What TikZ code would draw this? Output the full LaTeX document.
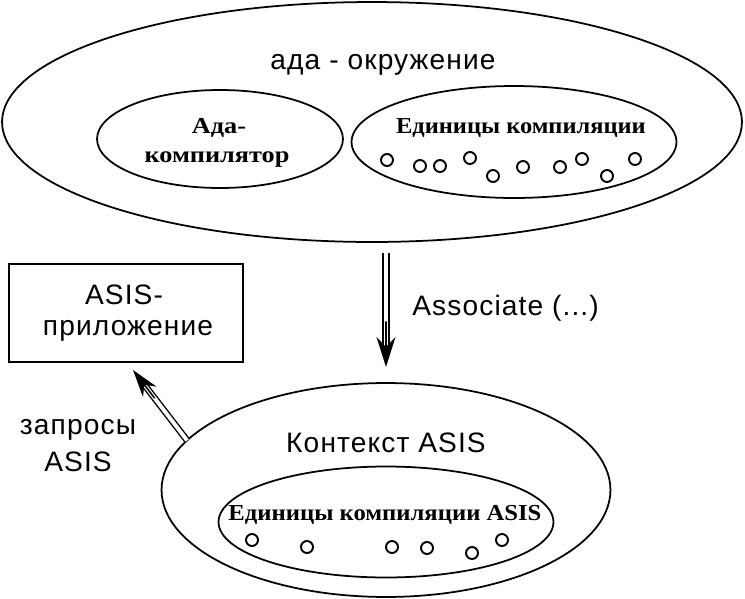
\documentclass[tikz,border=0pt]{standalone}
\usepackage{fontspec}
\usepackage{graphicx}
\setmainfont{Liberation Serif}
\newfontfamily\lblfont[LetterSpace=4]{Liberation Sans}
\usetikzlibrary{shapes.geometric,arrows.meta,calc}
\tikzset{
  ell/.style={ellipse, draw, line width=1pt, inner sep=0pt, outer sep=0pt},
  sanslbl/.style={font=\lblfont\fontsize{16}{18}\selectfont, inner sep=0pt},
  serlbl/.style={font=\bfseries\fontsize{13}{15}\selectfont, inner sep=0pt},
  unitmark/.style={line width=1.1pt},
  dblline/.style={double, double distance=2.6pt, line width=0.9pt},
  tipline/.style={line width=0.9pt},
  appbox/.style={draw, line width=1pt, inner sep=0pt, outer sep=0pt}
}
\begin{document}
\begin{tikzpicture}[x=0.02cm,y=-0.02cm]
\useasboundingbox (0,0) rectangle (745,599);
% top environment
\node[ell, minimum width=14.8cm, minimum height=4.8cm] (env) at (372,122) {};
\node[sanslbl] (envlbl) at (383,65) {ада - окружение};
\node[ell, minimum width=4.92cm, minimum height=1.96cm] (comp) at (220,139) {};
\node[serlbl] (complblA) at (219,128) {\scalebox{1.15}[1]{Ада-}};
\node[serlbl] (complblB) at (217,160) {\scalebox{1.15}[1]{компилятор}};
\node[ell, minimum width=6.5cm, minimum height=2.24cm] (units) at (514,142) {};
\node[serlbl] (unitslbl) at (521,128) {\scalebox{1.07}[1]{Единицы компиляции}};
\foreach \px/\py in {387/160,420/166,440/166,470/158,493/176,523/167,560/167,582/159,607/176,635/159}
  \draw[unitmark] (\px,\py) circle[radius=6];
% application box
\node[appbox, minimum width=4.68cm, minimum height=1.96cm] (app) at (126,313) {};
\node[sanslbl] (applblA) at (124,295) {ASIS-};
\node[sanslbl] (applblB) at (128,331) {приложение};
% context
\node[ell, minimum width=8.98cm, minimum height=4.28cm] (ctx) at (386,490) {};
\node[sanslbl] (ctxlbl) at (386,443) {Контекст ASIS};
\node[ell, minimum width=6.7cm, minimum height=2.22cm] (asisunits) at (386,522) {};
\node[serlbl] (asisunitslbl) at (385,515) {\scalebox{1.08}[1]{Единицы компиляции ASIS}};
\foreach \px/\py in {252/540,307/547,392/547,427/548,472/553,502/540}
  \draw[unitmark] (\px,\py) circle[radius=6];
% Associate arrow
\coordinate (assocTop) at (386,253);
\coordinate (assocEnd) at (386,367);
\draw[dblline, shorten >=0.35cm] (assocTop) -- (assocEnd);
\draw[tipline, -{Stealth[length=0.6cm,width=0.38cm,inset=0.2cm]}] ($(assocTop)!0.6!(assocEnd)$) -- (assocEnd);
\node[sanslbl, anchor=west] (assoclbl) at (412,308) {Associate (...)};
% requests arrow
\coordinate (reqTip) at (133,370);
\draw[dblline, double distance=2.2pt, line width=0.8pt, shorten >=0.3cm] (ctx.166) -- (reqTip);
\draw[tipline, -{Stealth[length=0.55cm,width=0.34cm,inset=0.18cm]}] ($(ctx.166)!0.6!(reqTip)$) -- (reqTip);
\node[sanslbl] (reqlblA) at (78,430) {запросы};
\node[sanslbl] (reqlblB) at (78,462) {ASIS};
\end{tikzpicture}
\end{document}
